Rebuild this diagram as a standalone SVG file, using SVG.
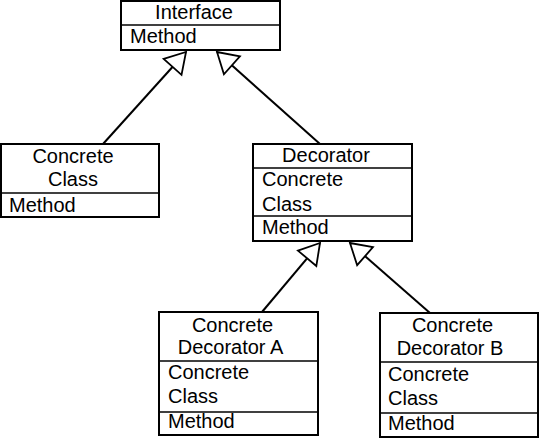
<svg xmlns="http://www.w3.org/2000/svg" width="540" height="438" viewBox="0 0 540 438">
<style>
.box{fill:#fff;stroke:#000;stroke-width:2}
.sep{stroke:#000;stroke-width:1.6}
text{font-family:"Liberation Sans",Arial,sans-serif;font-size:20px;fill:#000}
.c{text-anchor:middle}
.edge{stroke:#000;stroke-width:2;fill:none;marker-end:url(#tri)}
</style>
<defs>
<marker id="tri" markerUnits="userSpaceOnUse" markerWidth="24" markerHeight="28" viewBox="0 0 24 28" refX="22" refY="14" orient="auto">
<path d="M2,2 L22,14 L2,26 Z" fill="#fff" stroke="#000" stroke-width="1.8" stroke-linejoin="miter"/>
</marker>
</defs>
<g id="connectors">
<line class="edge" x1="103" y1="144" x2="186" y2="52"/>
<line class="edge" x1="320" y1="144" x2="217" y2="52"/>
<line class="edge" x1="262" y1="312" x2="320" y2="243"/>
<line class="edge" x1="430" y1="313" x2="350" y2="243"/>
</g>
<g id="interface">
<rect class="box" x="121" y="1" width="159" height="49"/>
<line class="sep" x1="121" y1="25" x2="280" y2="25"/>
<text class="c" x="194" y="19">Interface</text>
<text x="130" y="43">Method</text>
</g>
<g id="concrete-class">
<rect class="box" x="1" y="144" width="158" height="73"/>
<line class="sep" x1="1" y1="193" x2="159" y2="193"/>
<text class="c" x="73" y="163">Concrete</text>
<text class="c" x="73" y="186">Class</text>
<text x="9" y="212">Method</text>
</g>
<g id="decorator">
<rect class="box" x="253" y="144" width="159" height="97"/>
<line class="sep" x1="253" y1="168" x2="412" y2="168"/>
<line class="sep" x1="253" y1="216" x2="412" y2="216"/>
<text class="c" x="326" y="162">Decorator</text>
<text x="262" y="186">Concrete</text>
<text x="262" y="211">Class</text>
<text x="262" y="234">Method</text>
</g>
<g id="concrete-decorator-a">
<rect class="box" x="159" y="312" width="159" height="123"/>
<line class="sep" x1="159" y1="361" x2="318" y2="361"/>
<line class="sep" x1="159" y1="412" x2="318" y2="412"/>
<text class="c" x="232.5" y="332">Concrete</text>
<text class="c" x="230.5" y="354">Decorator A</text>
<text x="168" y="379">Concrete</text>
<text x="168" y="403">Class</text>
<text x="168" y="428">Method</text>
</g>
<g id="concrete-decorator-b">
<rect class="box" x="380" y="313" width="158" height="124"/>
<line class="sep" x1="380" y1="362" x2="538" y2="362"/>
<line class="sep" x1="380" y1="413" x2="538" y2="413"/>
<text class="c" x="452.5" y="332">Concrete</text>
<text class="c" x="450" y="355">Decorator B</text>
<text x="388" y="381">Concrete</text>
<text x="388" y="405">Class</text>
<text x="388" y="430">Method</text>
</g>
</svg>
